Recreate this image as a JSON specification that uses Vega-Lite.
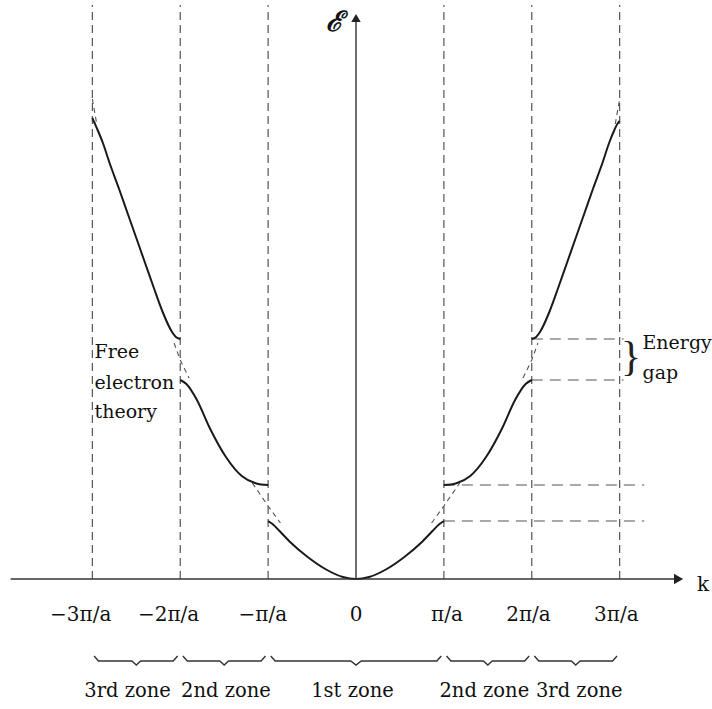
{
  "$schema": "https://vega.github.io/schema/vega-lite/v6.json",
  "width": 712,
  "height": 709,
  "padding": 0,
  "autosize": {"type": "fit", "contains": "padding"},
  "background": "white",
  "config": {"view": {"stroke": null}, "font": "DejaVu Serif"},
  "datasets": {
    "bounds": [{"k": -3}, {"k": -2}, {"k": -1}, {"k": 1}, {"k": 2}, {"k": 3}],
    "gaps": [
      {"E": 58, "k0": 1, "k1": 3.28},
      {"E": 94, "k0": 1, "k1": 3.28},
      {"E": 199, "k0": 2, "k1": 3.045},
      {"E": 240, "k0": 2, "k1": 3.045}
    ],
    "bands": [
      {"band": "1", "k": -1, "E": 58}, {"band": "1", "k": -0.95, "E": 55}, {"band": "1", "k": -0.87, "E": 48},
      {"band": "1", "k": -0.75, "E": 37}, {"band": "1", "k": -0.55, "E": 22}, {"band": "1", "k": -0.35, "E": 10},
      {"band": "1", "k": -0.15, "E": 2}, {"band": "1", "k": 0, "E": 0}, {"band": "1", "k": 0.15, "E": 2},
      {"band": "1", "k": 0.35, "E": 10}, {"band": "1", "k": 0.55, "E": 22}, {"band": "1", "k": 0.75, "E": 37},
      {"band": "1", "k": 0.87, "E": 48}, {"band": "1", "k": 0.95, "E": 55}, {"band": "1", "k": 1, "E": 58},
      {"band": "2R", "k": 1, "E": 94}, {"band": "2R", "k": 1.08, "E": 94.5}, {"band": "2R", "k": 1.15, "E": 96},
      {"band": "2R", "k": 1.3, "E": 103}, {"band": "2R", "k": 1.48, "E": 122}, {"band": "2R", "k": 1.67, "E": 152},
      {"band": "2R", "k": 1.81, "E": 179}, {"band": "2R", "k": 1.93, "E": 195}, {"band": "2R", "k": 2, "E": 199},
      {"band": "2L", "k": -1, "E": 94}, {"band": "2L", "k": -1.08, "E": 94.5}, {"band": "2L", "k": -1.15, "E": 96},
      {"band": "2L", "k": -1.3, "E": 103}, {"band": "2L", "k": -1.48, "E": 122}, {"band": "2L", "k": -1.67, "E": 152},
      {"band": "2L", "k": -1.81, "E": 179}, {"band": "2L", "k": -1.93, "E": 195}, {"band": "2L", "k": -2, "E": 199},
      {"band": "3R", "k": 2, "E": 240}, {"band": "3R", "k": 2.05, "E": 242}, {"band": "3R", "k": 2.1, "E": 248},
      {"band": "3R", "k": 2.2, "E": 267}, {"band": "3R", "k": 2.3, "E": 291}, {"band": "3R", "k": 2.4, "E": 316},
      {"band": "3R", "k": 2.5, "E": 341}, {"band": "3R", "k": 2.6, "E": 366}, {"band": "3R", "k": 2.7, "E": 391},
      {"band": "3R", "k": 2.8, "E": 415}, {"band": "3R", "k": 2.88, "E": 436}, {"band": "3R", "k": 2.94, "E": 449},
      {"band": "3R", "k": 2.98, "E": 456}, {"band": "3R", "k": 3, "E": 458},
      {"band": "3L", "k": -2, "E": 240}, {"band": "3L", "k": -2.05, "E": 242}, {"band": "3L", "k": -2.1, "E": 248},
      {"band": "3L", "k": -2.2, "E": 267}, {"band": "3L", "k": -2.3, "E": 291}, {"band": "3L", "k": -2.4, "E": 316},
      {"band": "3L", "k": -2.5, "E": 341}, {"band": "3L", "k": -2.6, "E": 366}, {"band": "3L", "k": -2.7, "E": 391},
      {"band": "3L", "k": -2.8, "E": 415}, {"band": "3L", "k": -2.88, "E": 436}, {"band": "3L", "k": -2.94, "E": 449},
      {"band": "3L", "k": -2.98, "E": 457}, {"band": "3L", "k": -3, "E": 461}
    ],
    "free": [
      {"seg": "a", "k": 0.86, "E": 56}, {"seg": "a", "k": 1, "E": 73}, {"seg": "a", "k": 1.18, "E": 96},
      {"seg": "b", "k": -0.86, "E": 56}, {"seg": "b", "k": -1, "E": 73}, {"seg": "b", "k": -1.18, "E": 96},
      {"seg": "c", "k": 1.9, "E": 201}, {"seg": "c", "k": 2, "E": 219}, {"seg": "c", "k": 2.07, "E": 236},
      {"seg": "d", "k": -1.9, "E": 201}, {"seg": "d", "k": -2, "E": 219}, {"seg": "d", "k": -2.07, "E": 236},
      {"seg": "e", "k": 2.95, "E": 455}, {"seg": "e", "k": 3, "E": 480},
      {"seg": "f", "k": -2.95, "E": 455}, {"seg": "f", "k": -3, "E": 480}
    ],
    "braces": [
      {"zone": "z1", "k": -2.98, "E": -77}, {"zone": "z1", "k": -2.93, "E": -82}, {"zone": "z1", "k": -2.55, "E": -82}, {"zone": "z1", "k": -2.5, "E": -86}, {"zone": "z1", "k": -2.45, "E": -82}, {"zone": "z1", "k": -2.08, "E": -82}, {"zone": "z1", "k": -2.03, "E": -77},
      {"zone": "z2", "k": -1.97, "E": -77}, {"zone": "z2", "k": -1.92, "E": -82}, {"zone": "z2", "k": -1.55, "E": -82}, {"zone": "z2", "k": -1.5, "E": -86}, {"zone": "z2", "k": -1.45, "E": -82}, {"zone": "z2", "k": -1.08, "E": -82}, {"zone": "z2", "k": -1.03, "E": -77},
      {"zone": "z3", "k": -0.97, "E": -77}, {"zone": "z3", "k": -0.92, "E": -82}, {"zone": "z3", "k": -0.06, "E": -82}, {"zone": "z3", "k": 0, "E": -86}, {"zone": "z3", "k": 0.06, "E": -82}, {"zone": "z3", "k": 0.92, "E": -82}, {"zone": "z3", "k": 0.97, "E": -77},
      {"zone": "z4", "k": 1.03, "E": -77}, {"zone": "z4", "k": 1.08, "E": -82}, {"zone": "z4", "k": 1.45, "E": -82}, {"zone": "z4", "k": 1.5, "E": -86}, {"zone": "z4", "k": 1.55, "E": -82}, {"zone": "z4", "k": 1.92, "E": -82}, {"zone": "z4", "k": 1.97, "E": -77},
      {"zone": "z5", "k": 2.03, "E": -77}, {"zone": "z5", "k": 2.08, "E": -82}, {"zone": "z5", "k": 2.45, "E": -82}, {"zone": "z5", "k": 2.5, "E": -86}, {"zone": "z5", "k": 2.55, "E": -82}, {"zone": "z5", "k": 2.92, "E": -82}, {"zone": "z5", "k": 2.97, "E": -77}
    ],
    "ticks": [
      {"k": -3, "label": "−3π/a"}, {"k": -2, "label": "−2π/a"}, {"k": -1, "label": "−π/a"},
      {"k": 0, "label": "0"}, {"k": 1, "label": "π/a"}, {"k": 2, "label": "2π/a"}, {"k": 3, "label": "3π/a"}
    ],
    "zones": [
      {"k": -2.6, "label": "3rd zone"}, {"k": -1.48, "label": "2nd zone"}, {"k": -0.04, "label": "1st zone"},
      {"k": 1.46, "label": "2nd zone"}, {"k": 2.54, "label": "3rd zone"}
    ],
    "notes": [
      {"k": -2.975, "E": 227, "label": "Free"},
      {"k": -2.975, "E": 196, "label": "electron"},
      {"k": -2.975, "E": 167, "label": "theory"},
      {"k": 3.26, "E": 236, "label": "Energy"},
      {"k": 3.26, "E": 206, "label": "gap"}
    ]
  },
  "layer": [
    {
      "data": {"name": "bounds"},
      "mark": {"type": "rule", "strokeDash": [8, 5], "stroke": "#555", "strokeWidth": 1.2},
      "encoding": {
        "x": {"field": "k", "type": "quantitative", "scale": {"domain": [-4.051, 3.994], "nice": false, "zero": false}, "axis": null},
        "y": {"datum": 0, "type": "quantitative", "scale": {"domain": [-130, 579], "nice": false, "zero": false}, "axis": null},
        "y2": {"datum": 574}
      }
    },
    {
      "data": {"name": "gaps"},
      "mark": {"type": "rule", "strokeDash": [11, 7], "stroke": "#555", "strokeWidth": 1.2},
      "encoding": {
        "x": {"field": "k0", "type": "quantitative"},
        "x2": {"field": "k1"},
        "y": {"field": "E", "type": "quantitative"}
      }
    },
    {
      "data": {"name": "free"},
      "mark": {"type": "line", "strokeDash": [5, 4], "stroke": "#555", "strokeWidth": 1.1},
      "encoding": {
        "x": {"field": "k", "type": "quantitative"},
        "y": {"field": "E", "type": "quantitative"},
        "detail": {"field": "seg"}
      }
    },
    {
      "data": {"name": "bands"},
      "mark": {"type": "line", "interpolate": "monotone", "stroke": "#1a1a1a", "strokeWidth": 2},
      "encoding": {
        "x": {"field": "k", "type": "quantitative"},
        "y": {"field": "E", "type": "quantitative"},
        "detail": {"field": "band"}
      }
    },
    {
      "data": {"values": [{}]},
      "mark": {"type": "rule", "stroke": "#333", "strokeWidth": 1.4},
      "encoding": {"x": {"datum": -3.93}, "x2": {"datum": 3.7}, "y": {"datum": 0}}
    },
    {
      "data": {"values": [{}]},
      "mark": {"type": "rule", "stroke": "#333", "strokeWidth": 1.4},
      "encoding": {"x": {"datum": 0}, "y": {"datum": 0}, "y2": {"datum": 560}}
    },
    {
      "data": {"values": [{}]},
      "mark": {"type": "point", "shape": "triangle-right", "filled": true, "color": "#222", "size": 110, "opacity": 1},
      "encoding": {"x": {"datum": 3.67}, "y": {"datum": 0}}
    },
    {
      "data": {"values": [{}]},
      "mark": {"type": "point", "shape": "triangle-up", "filled": true, "color": "#222", "size": 90, "opacity": 1},
      "encoding": {"x": {"datum": 0}, "y": {"datum": 561}}
    },
    {
      "data": {"name": "braces"},
      "mark": {"type": "line", "stroke": "#333", "strokeWidth": 1.4},
      "encoding": {
        "x": {"field": "k", "type": "quantitative"},
        "y": {"field": "E", "type": "quantitative"},
        "detail": {"field": "zone"}
      }
    },
    {
      "data": {"name": "ticks"},
      "transform": [{"filter": "datum.label !== '0'"}],
      "mark": {"type": "text", "align": "right", "baseline": "middle", "dx": 19, "fontSize": 20, "font": "DejaVu Serif", "color": "#111"},
      "encoding": {"x": {"field": "k", "type": "quantitative"}, "y": {"datum": -36}, "text": {"field": "label"}}
    },
    {
      "data": {"name": "ticks"},
      "transform": [{"filter": "datum.label === '0'"}],
      "mark": {"type": "text", "align": "center", "baseline": "middle", "fontSize": 20, "font": "DejaVu Serif", "color": "#111"},
      "encoding": {"x": {"field": "k", "type": "quantitative"}, "y": {"datum": -36}, "text": {"field": "label"}}
    },
    {
      "data": {"name": "zones"},
      "mark": {"type": "text", "align": "center", "baseline": "middle", "fontSize": 19.5, "font": "DejaVu Serif", "color": "#111"},
      "encoding": {"x": {"field": "k", "type": "quantitative"}, "y": {"datum": -112}, "text": {"field": "label"}}
    },
    {
      "data": {"name": "notes"},
      "mark": {"type": "text", "align": "left", "baseline": "middle", "fontSize": 19, "font": "DejaVu Serif", "color": "#111"},
      "encoding": {"x": {"field": "k", "type": "quantitative"}, "y": {"field": "E", "type": "quantitative"}, "text": {"field": "label"}}
    },
    {
      "data": {"values": [{"label": "}"}]},
      "mark": {"type": "text", "align": "center", "baseline": "middle", "fontSize": 42, "font": "Liberation Serif", "color": "#222"},
      "encoding": {"x": {"datum": 3.13}, "y": {"datum": 222}, "text": {"field": "label"}}
    },
    {
      "data": {"values": [{"label": "ℰ"}]},
      "mark": {"type": "text", "align": "center", "baseline": "middle", "fontSize": 28, "font": "DejaVu Serif", "fontStyle": "italic", "fontWeight": "bold", "color": "#111"},
      "encoding": {"x": {"datum": -0.243}, "y": {"datum": 556}, "text": {"field": "label"}}
    },
    {
      "data": {"values": [{"label": "k"}]},
      "mark": {"type": "text", "align": "left", "baseline": "middle", "fontSize": 20, "font": "DejaVu Serif", "color": "#111"},
      "encoding": {"x": {"datum": 3.88}, "y": {"datum": -6}, "text": {"field": "label"}}
    }
  ]
}
